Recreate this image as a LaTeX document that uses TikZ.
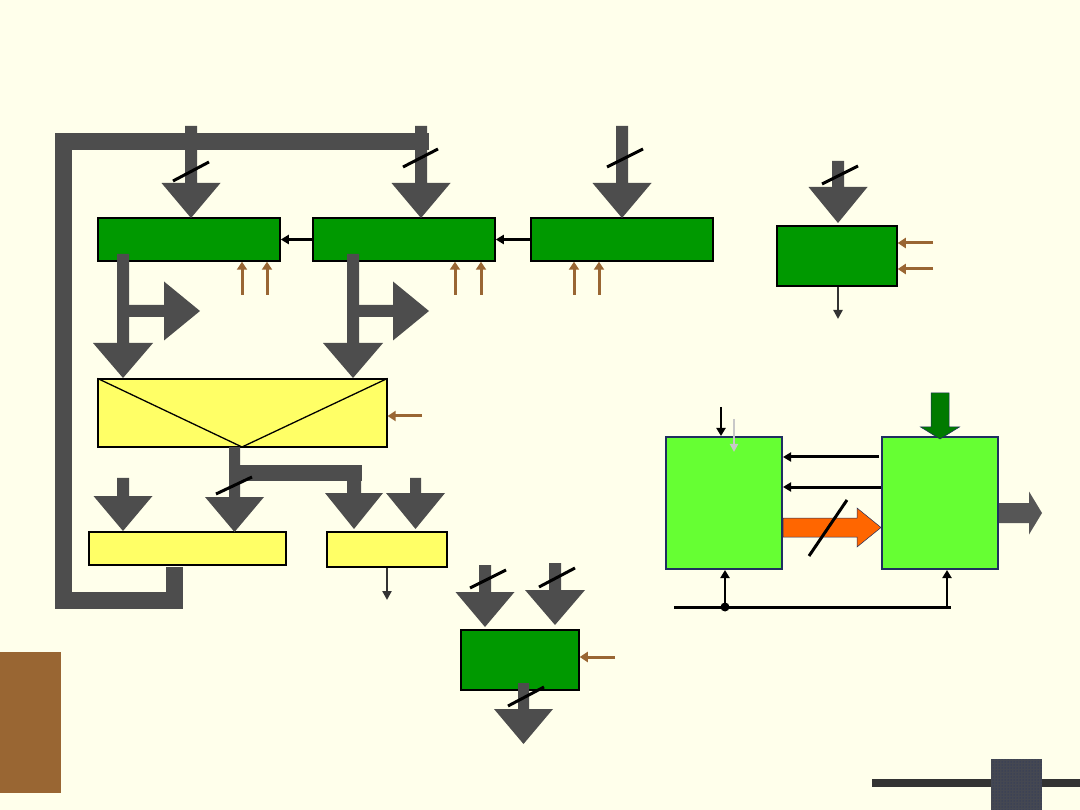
\documentclass[tikz,border=0pt]{standalone}
\usetikzlibrary{arrows.meta,patterns}
\definecolor{bg}{HTML}{FFFFEB}
\definecolor{fatgray}{HTML}{4D4D4D}
\definecolor{regreen}{HTML}{009900}
\definecolor{ylw}{HTML}{FFFF66}
\definecolor{brn}{HTML}{996633}
\definecolor{lgreen}{HTML}{66FF33}
\definecolor{navy}{HTML}{1F2F5F}
\definecolor{orng}{HTML}{FF6600}
\definecolor{dgreen}{HTML}{007A00}
\definecolor{lgray}{HTML}{C8C8C8}
\definecolor{dk}{HTML}{333333}
\definecolor{sqcol}{HTML}{454852}
\tikzset{
  gbox/.style={draw=black, line width=1.5pt, fill=regreen, inner sep=0pt},
  ybox/.style={draw=black, line width=1.3pt, fill=ylw, inner sep=0pt},
  lbox/.style={draw=navy, line width=2pt, fill=lgreen, inner sep=0pt},
  blk/.style={draw=black, line width=3pt, -{Triangle[length=8pt,width=9pt]}},
  brnarr/.style={draw=brn, line width=3pt, -{Triangle[length=8pt,width=10pt]}},
  dkarr/.style={draw=dk, line width=2.5pt, -{Triangle[length=9pt,width=9pt]}},
  slash/.style={draw=black, line width=3pt},
  fat/.style={fill=fatgray},
}
% cx, shaftTop, headTop, tip, shaftHalf, headHalf
\newcommand{\FatDown}[7][fat]{\path[#1] (#2-#6,#3) -- (#2+#6,#3) -- (#2+#6,#4) -- (#2+#7,#4) -- (#2,#5) -- (#2-#7,#4) -- (#2-#6,#4) -- cycle;}
% cy, shaftLeft, headLeft, tip, shaftHalf, headHalf
\newcommand{\FatRight}[7][fat]{\path[#1] (#3,#2-#6) -- (#3,#2+#6) -- (#4,#2+#6) -- (#4,#2+#7) -- (#5,#2) -- (#4,#2-#7) -- (#4,#2-#6) -- cycle;}
\begin{document}
\begin{tikzpicture}[x=1pt,y=-1pt]
\fill[bg] (0,0) rectangle (1080,810);
\useasboundingbox (0,0) rectangle (1080,810);

% boxes
\node[gbox, minimum width=182pt, minimum height=43pt] (b1) at (189,239.5) {};
\node[gbox, minimum width=182pt, minimum height=43pt] (b2) at (404,239.5) {};
\node[gbox, minimum width=182pt, minimum height=43pt] (b3) at (622,239.5) {};
\node[gbox, minimum width=120pt, minimum height=60pt] (b4) at (837,256) {};
\node[ybox, minimum width=289pt, minimum height=68pt] (y1) at (242.5,413) {};
\node[ybox, minimum width=197pt, minimum height=33pt] (y2) at (187.5,548.5) {};
\node[ybox, minimum width=120pt, minimum height=35pt] (y3) at (387,549.5) {};
\node[gbox, minimum width=118pt, minimum height=60pt] (b5) at (520,660) {};
\node[lbox, minimum width=116pt, minimum height=132pt] (l1) at (724,503) {};
\node[lbox, minimum width=116pt, minimum height=132pt] (l2) at (940,503) {};

% V in big yellow box
\coordinate (vbot) at (242,447);
\draw[line width=1.3pt] (y1.north west) -- (vbot) -- (y1.north east);

% feedback bar
\draw[fatgray, line width=17pt] (174.5,567) -- (174.5,600) -- (63.5,600) -- (63.5,141.5) -- (429,141.5);

% top fat arrows
\FatDown{191}{126}{183}{218}{6}{29.5}
\FatDown{421}{126}{183}{218}{6}{29.5}
\FatDown{622}{126}{183}{218}{6}{29.5}
\FatDown{838}{161}{187}{223}{6}{29.5}
\draw[slash] (173,181) -- (209,162);
\draw[slash] (403,167) -- (438,149);
\draw[slash] (607,167) -- (643,149);
\draw[slash] (822,184) -- (858,166);

% arrows between registers
\draw[blk] (b2.west) -- (b1.east);
\draw[blk] (b3.west) -- (b2.east);

% brown control arrows
\draw[brnarr] (242,295) -- (242,0 |- b1.south);
\draw[brnarr] (267,295) -- (267,0 |- b1.south);
\draw[brnarr] (455,295) -- (455,0 |- b2.south);
\draw[brnarr] (481,295) -- (481,0 |- b2.south);
\draw[brnarr] (574,295) -- (574,0 |- b3.south);
\draw[brnarr] (599,295) -- (599,0 |- b3.south);
\draw[brnarr] (933,243) -- (b4.east |- 0,243);
\draw[brnarr] (933,269) -- (b4.east |- 0,269);
\draw[brnarr] (422,416) -- (y1.east |- 0,416);
\draw[brnarr] (615,657) -- (b5.east |- 0,657);

% down + right fat arrows from registers
\FatRight{311}{125}{164}{200}{6}{29.5}
\FatDown{123}{254}{343}{378}{6}{30}
\FatRight{311}{355}{393}{429}{6}{29.5}
\FatDown{353}{254}{343}{378}{6}{30}

% output of big yellow box
\fill[fatgray] (240,465) rectangle (362,481);
\FatDown{354}{475}{493}{529}{7}{29}
\FatDown{234.5}{447}{497}{532}{5.5}{29.5}
\draw[slash] (216,494) -- (252,477);

% other fat arrows into lower yellow boxes
\FatDown{123}{478}{496}{531}{6}{29.5}
\FatDown{415.5}{478}{493}{529}{5.5}{29.5}

% output of small yellow box and b4
\draw[dkarr] (y3.south) -- (387,600);
\draw[dkarr] (b4.south -| 838,0) -- (838,319);

% bottom middle register
\FatDown{485}{565}{592}{627}{6}{29.5}
\FatDown{555}{563}{590}{625}{6}{30}
\FatDown{523.5}{683}{709}{744}{5.5}{29.5}
\draw[slash] (470,588) -- (506,570);
\draw[slash] (539,587) -- (575,568);
\draw[slash] (508,706) -- (544,687);

% right subsystem
\draw[blk, line width=2.5pt] (721,407) -- (721,0 |- l1.north);
\draw[draw=lgray, line width=2.5pt, -{Triangle[length=8pt,width=8pt]}] (734,419) -- (734,452);
\draw[blk] (879,457) -- (l1.east |- 0,457);
\draw[blk] (l2.west |- 0,487) -- (l1.east |- 0,487);
\FatRight[fill=orng, draw=navy, line width=0.5pt]{527.5}{783}{857}{881}{9.5}{19.5}
\draw[slash] (809,556) -- (847,500);
\FatDown[fill=dgreen, draw=navy, line width=0.5pt]{940}{393}{427}{439}{9}{19.5}
\FatRight[fill=fatgray!95!white]{513}{999}{1029}{1042}{10}{21.5}
\coordinate (bl) at (674,607);
\coordinate (br) at (951,607);
\coordinate (dot) at (725,607);
\draw[line width=3pt] (bl) -- (br);
\fill (dot) circle (4.5pt);
\draw[blk, line width=2.5pt] (dot) -- (dot |- l1.south);
\draw[blk, line width=2.5pt] (947,607) -- (947,0 |- l2.south);

% decorations
\fill[brn] (0,652) rectangle (61,793);
\draw[dk, line width=8pt] (872,783) -- (1080,783);
\fill[sqcol] (991,759) rectangle (1042,810);
\fill[pattern=dots, pattern color=navy] (991,759) rectangle (1042,810);
\end{tikzpicture}
\end{document}
